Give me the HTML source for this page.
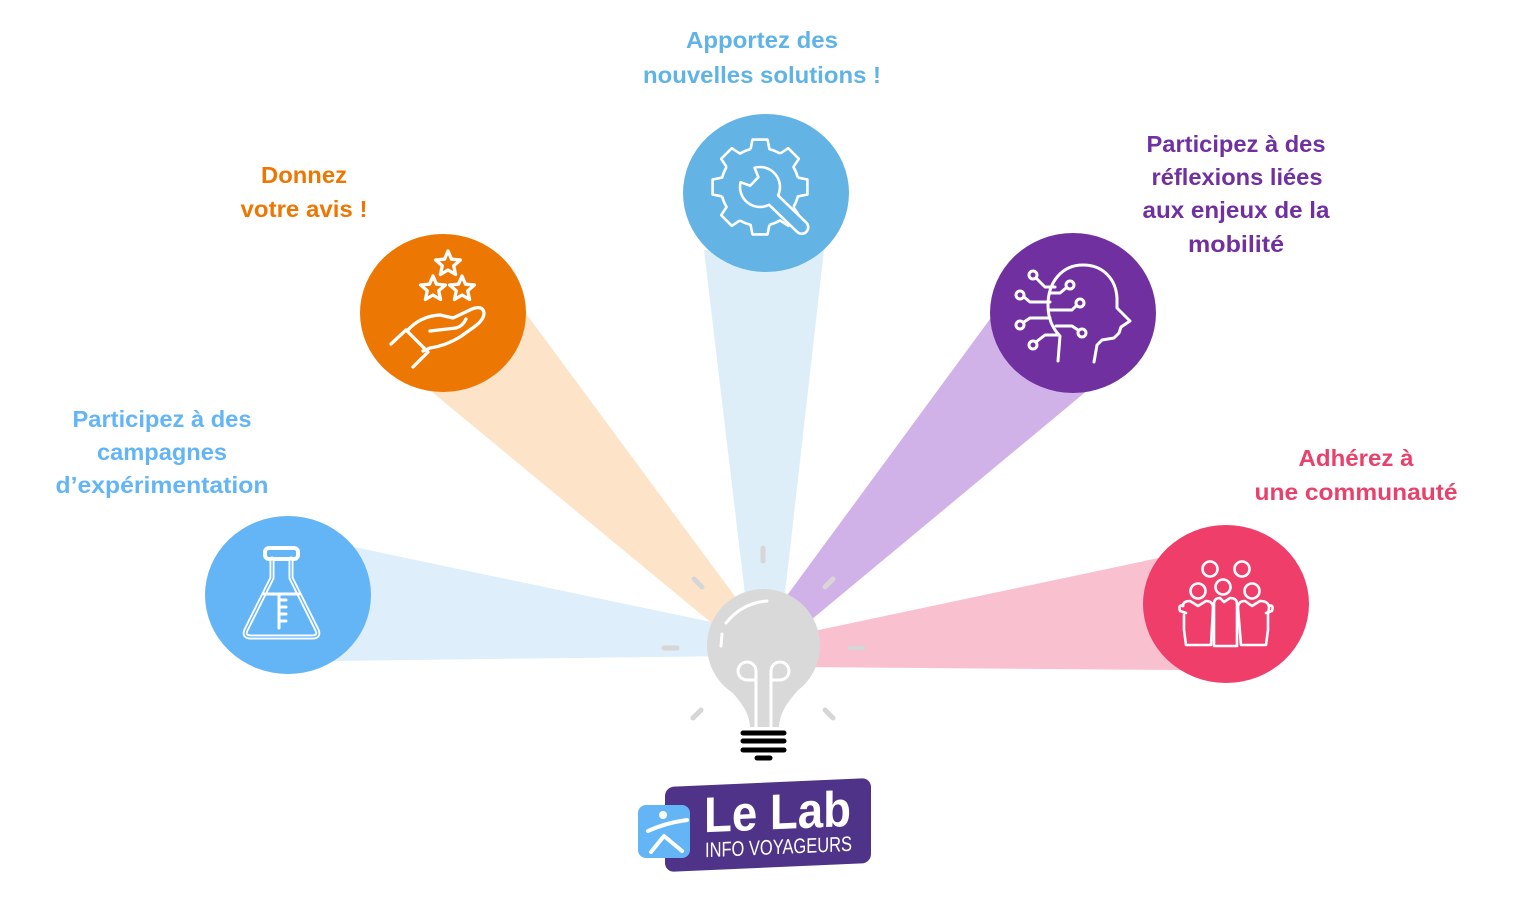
<!DOCTYPE html>
<html>
<head>
<meta charset="utf-8">
<style>
html,body{margin:0;padding:0;background:#fff;}
svg{display:block;}
text{font-family:"Liberation Sans",sans-serif;font-weight:bold;}
</style>
</head>
<body>
<svg width="1524" height="904" viewBox="0 0 1524 904" xmlns="http://www.w3.org/2000/svg">
  <rect width="1524" height="904" fill="#ffffff"/>

  <!-- beams -->
  <polygon points="330,542 735,627 735,656 330,661" fill="#deeefb"/>
  <polygon points="369,340 516,300 745,610 720,630" fill="#fde4c9"/>
  <polygon points="704,250 824,250 782,620 748,620" fill="#deeef9"/>
  <polygon points="1004,300 1112,370 805,625 780,605" fill="#d1b2e8"/>
  <polygon points="1168,556 1180,670 800,667 800,634" fill="#f9c0cf"/>

  <!-- circles -->
  <ellipse cx="288" cy="595" rx="83" ry="79" fill="#63b5f6"/>
  <ellipse cx="443" cy="313" rx="83" ry="79" fill="#ed7703"/>
  <ellipse cx="766" cy="193" rx="83" ry="79" fill="#63b3e5"/>
  <ellipse cx="1073" cy="313" rx="83" ry="80" fill="#7030a0"/>
  <ellipse cx="1226" cy="604" rx="83" ry="79" fill="#ef3e6a"/>

  <!-- flask icon -->
  <g fill="none" stroke-linejoin="round" stroke-linecap="round">
    <rect x="265" y="548" width="33" height="11" rx="4" stroke="#fff" stroke-width="4"/>
    <path d="M272,559 L272,578 L246,630 Q243,637 251,637 L312,637 Q320,637 317,630 L291,578 L291,559" stroke="#fff" stroke-width="5"/>
    <path d="M272,561 L272,578 L246,630 Q243,637 251,637 L312,637 Q320,637 317,630 L291,578 L291,561" stroke="#63b5f6" stroke-width="1.3"/>
    <path d="M264,594 L299,594" stroke="#fff" stroke-width="3"/>
    <path d="M279,594 L279,628 M279,600 L286,600 M279,607 L286,607 M279,614 L286,614 M279,621 L286,621" stroke="#fff" stroke-width="3"/>
  </g>

  <!-- hand + stars icon -->
  <g fill="none" stroke="#fff" stroke-width="3.3" stroke-linejoin="round" stroke-linecap="round">
    <path transform="translate(448,264)" d="M0,-13 L3.5,-4.8 L12.4,-4 L5.7,1.8 L7.6,10.5 L0,6 L-7.6,10.5 L-5.7,1.8 L-12.4,-4 L-3.5,-4.8 Z"/>
    <path transform="translate(433,289)" d="M0,-13 L3.5,-4.8 L12.4,-4 L5.7,1.8 L7.6,10.5 L0,6 L-7.6,10.5 L-5.7,1.8 L-12.4,-4 L-3.5,-4.8 Z"/>
    <path transform="translate(462,289)" d="M0,-13 L3.5,-4.8 L12.4,-4 L5.7,1.8 L7.6,10.5 L0,6 L-7.6,10.5 L-5.7,1.8 L-12.4,-4 L-3.5,-4.8 Z"/>
    <path d="M391,344 L406,330 L428,352 L413,367"/>
    <path d="M407,331 Q420,316 440,315 L453,318 L472,309 Q483,305 484,313 Q484,320 474,327 L460,337 Q445,346 430,348 L423,351"/>
    <path d="M430,331 L456,328 Q463,326 466,319"/>
  </g>

  <!-- gear + wrench icon -->
  <g transform="translate(760,187)" fill="none" stroke="#fff" stroke-width="2.6" stroke-linejoin="round">
    <path d="M37.84,-9.43 L47.41,-7.51 L47.41,7.51 L37.84,9.43 A39,39 0 0 1 33.43,20.09"/>
    <path transform="rotate(45)" d="M37.84,-9.43 L47.41,-7.51 L47.41,7.51 L37.84,9.43 A39,39 0 0 1 33.43,20.09"/>
    <path transform="rotate(90)" d="M37.84,-9.43 L47.41,-7.51 L47.41,7.51 L37.84,9.43 A39,39 0 0 1 33.43,20.09"/>
    <path transform="rotate(135)" d="M37.84,-9.43 L47.41,-7.51 L47.41,7.51 L37.84,9.43 A39,39 0 0 1 33.43,20.09"/>
    <path transform="rotate(180)" d="M37.84,-9.43 L47.41,-7.51 L47.41,7.51 L37.84,9.43 A39,39 0 0 1 33.43,20.09"/>
    <path transform="rotate(225)" d="M37.84,-9.43 L47.41,-7.51 L47.41,7.51 L37.84,9.43 A39,39 0 0 1 33.43,20.09"/>
    <path transform="rotate(270)" d="M37.84,-9.43 L47.41,-7.51 L47.41,7.51 L37.84,9.43 A39,39 0 0 1 33.43,20.09"/>
    <path transform="rotate(315)" d="M37.84,-9.43 L47.41,-7.51 L47.41,7.51 L37.84,9.43 A39,39 0 0 1 33.43,20.09"/>
    <path transform="rotate(44)" fill="#63b3e5" d="M18.9,-6.5 L58,-6.5 A6.5,6.5 0 0 1 58,6.5 L18.9,6.5 A20,20 0 0 1 -17.3,10 L-8,6 L-8,-6 L-17.3,-10 A20,20 0 0 1 18.9,-6.5 Z"/>
  </g>

  <!-- head + circuits icon -->
  <g fill="none" stroke="#fff" stroke-width="3" stroke-linejoin="round" stroke-linecap="round">
    <path d="M1058,361 L1060,336 C1052,328 1048,318 1048,305 C1048,282 1062,265 1083,265 C1104,265 1116,280 1117,298 L1117,308 L1130,321 L1121,327 L1119,333 L1114,338 L1102,340 L1097,345 L1094,362"/>
    <circle cx="1033" cy="275" r="4"/><path d="M1036,278 L1045,287 L1055,287"/>
    <circle cx="1070" cy="285" r="4"/><path d="M1066,288 L1060,293 L1050,293"/>
    <circle cx="1020" cy="295" r="4"/><path d="M1024,297 L1030,302 L1050,302"/>
    <circle cx="1080" cy="303" r="4"/><path d="M1076,306 L1072,310 L1049,310"/>
    <circle cx="1020" cy="325" r="4"/><path d="M1024,322 L1030,318 L1050,318"/>
    <circle cx="1082" cy="333" r="4"/><path d="M1078,330 L1072,326 L1056,326"/>
    <circle cx="1033" cy="345" r="4"/><path d="M1036,342 L1045,335 L1058,335"/>
  </g>

  <!-- people icon -->
  <g fill="none" stroke="#fff" stroke-width="2.6" stroke-linejoin="round" stroke-linecap="round">
    <circle cx="1210" cy="569" r="7.5"/>
    <circle cx="1242" cy="569" r="7.5"/>
    <circle cx="1198" cy="591" r="7.5"/>
    <circle cx="1223" cy="587" r="7.5"/>
    <circle cx="1252" cy="591" r="7.5"/>
    <path d="M1183,606 Q1183,601 1190,601 L1198,606 L1206,601 Q1213,601 1213,608 L1211,645 L1186,645 L1184,630 L1184,615"/>
    <path d="M1214,604 Q1214,598 1220,598 L1224,602 L1230,598 Q1237,598 1237,604 L1237,646 L1214,646 Z"/>
    <path d="M1238,608 Q1238,601 1245,601 L1252,606 L1260,601 Q1269,601 1269,608 L1268,615 L1268,630 L1266,645 L1241,645 Z"/>
    <path d="M1183,606 Q1178,604 1180,611 L1186,613 M1269,606 Q1274,604 1272,611 L1266,613"/>
  </g>

  <!-- rays -->
  <g stroke="#d6d6d6" stroke-width="5" stroke-linecap="round">
    <line x1="763" y1="548" x2="763" y2="561"/>
    <line x1="694" y1="579" x2="702" y2="587"/>
    <line x1="825" y1="587" x2="833" y2="579"/>
    <line x1="664" y1="648" x2="677" y2="648"/>
    <line x1="850" y1="648" x2="863" y2="648"/>
    <line x1="693" y1="718" x2="701" y2="710"/>
    <line x1="825" y1="710" x2="833" y2="718"/>
  </g>

  <!-- bulb -->
  <circle cx="763.5" cy="645.5" r="56.5" fill="#d9d9d9"/>
  <path d="M713,668 C726,690 749,703 750,727 L779,727 C780,703 802,690 815,668 Z" fill="#d9d9d9"/>
  <g fill="none" stroke="#fff" stroke-width="3" stroke-linecap="round">
    <path d="M726,623 Q742,603 767,601"/>
    <path d="M722,634 L721,646"/>
    <path d="M756,727 L756,671 A9,9 0 1 0 747,680 L756,680"/>
    <path d="M771,727 L771,671 A9,9 0 1 1 780,680 L771,680"/>
  </g>
  <g stroke="#000" stroke-width="5" stroke-linecap="round">
    <line x1="743" y1="733" x2="784" y2="733"/>
    <line x1="743" y1="741" x2="784" y2="741"/>
    <line x1="743" y1="750" x2="784" y2="750"/>
    <line x1="757" y1="758" x2="770" y2="758"/>
  </g>

  <!-- labels -->
  <g font-size="23" text-anchor="middle">
    <text x="762" y="48" fill="#5fb3e6" textLength="152" lengthAdjust="spacingAndGlyphs">Apportez des</text>
    <text x="762" y="83" fill="#5fb3e6" textLength="238" lengthAdjust="spacingAndGlyphs">nouvelles solutions !</text>

    <text x="304" y="183" fill="#ed7703" textLength="86" lengthAdjust="spacingAndGlyphs">Donnez</text>
    <text x="304" y="217" fill="#ed7703" textLength="127" lengthAdjust="spacingAndGlyphs">votre avis !</text>

    <text x="1236" y="152" fill="#7030a0" textLength="179" lengthAdjust="spacingAndGlyphs">Participez à des</text>
    <text x="1237" y="185" fill="#7030a0" textLength="171" lengthAdjust="spacingAndGlyphs">réflexions liées</text>
    <text x="1236" y="218" fill="#7030a0" textLength="187" lengthAdjust="spacingAndGlyphs">aux enjeux de la</text>
    <text x="1236" y="252" fill="#7030a0" textLength="96" lengthAdjust="spacingAndGlyphs">mobilité</text>

    <text x="1356" y="466" fill="#e8416b" textLength="115" lengthAdjust="spacingAndGlyphs">Adhérez à</text>
    <text x="1356" y="500" fill="#e8416b" textLength="203" lengthAdjust="spacingAndGlyphs">une communauté</text>

    <text x="162" y="427" fill="#63b5f6" textLength="179" lengthAdjust="spacingAndGlyphs">Participez à des</text>
    <text x="162" y="460" fill="#63b5f6" textLength="130" lengthAdjust="spacingAndGlyphs">campagnes</text>
    <text x="162" y="493" fill="#63b5f6" textLength="213" lengthAdjust="spacingAndGlyphs">d’expérimentation</text>
  </g>

  <!-- logo -->
  <g transform="translate(665,787) skewY(-2.5)">
    <rect x="0" y="0" width="206" height="85" rx="9" fill="#4f3389"/>
    <text x="39" y="47" font-size="50" fill="#fff" textLength="147" lengthAdjust="spacingAndGlyphs">Le Lab</text>
    <text x="40" y="72" font-size="21" style="font-weight:normal" fill="#fff" textLength="147" lengthAdjust="spacingAndGlyphs">INFO VOYAGEURS</text>
  </g>
  <rect x="638" y="805" width="52" height="53" rx="8" fill="#64b5f5"/>
  <g fill="none" stroke="#fff" stroke-linecap="round" stroke-linejoin="round">
    <circle cx="663" cy="815" r="4" fill="#fff" stroke="none"/>
    <path d="M648,831 Q665,823 687,820" stroke-width="4"/>
    <path d="M651,852 L664,836 L682,851" stroke-width="4"/>
  </g>
</svg>
</body>
</html>
